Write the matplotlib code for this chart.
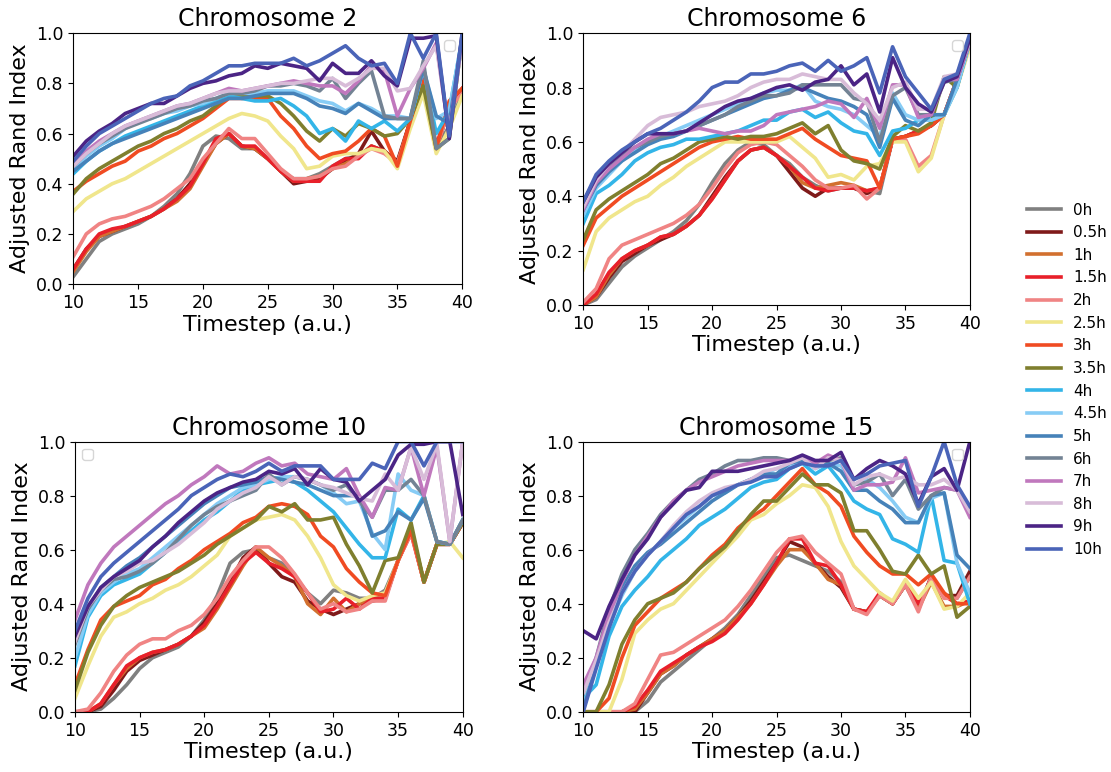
import matplotlib
matplotlib.use("Agg")
import matplotlib.pyplot as plt

# =========================
# Data
# =========================
timesteps = list(range(10, 41))

labels = ["0h", "0.5h", "1h", "1.5h", "2h", "2.5h", "3h", "3.5h",
          "4h", "4.5h", "5h", "6h", "7h", "8h", "9h", "10h"]

colors = ["#808080", "#7f1a1a", "#d2702f", "#e8202a", "#f08484", "#f0e68c",
          "#f04b22", "#7f7f2e", "#33b5e8", "#87ccf5", "#4682b9", "#738394",
          "#c078bd", "#d8bcd8", "#4b2485", "#4a64b8"]

chr2 = [
    [0.03,0.10,0.17,0.20,0.22,0.24,0.27,0.31,0.36,0.44,0.55,0.59,0.58,0.54,0.54,0.50,0.45,0.42,0.42,0.44,0.47,0.50,0.51,0.55,0.53,0.48,0.65,0.82,0.54,0.63,0.76],
    [0.06,0.14,0.19,0.21,0.23,0.25,0.27,0.30,0.34,0.40,0.48,0.56,0.60,0.55,0.54,0.50,0.45,0.40,0.41,0.42,0.46,0.49,0.52,0.61,0.53,0.49,0.65,0.82,0.54,0.70,0.77],
    [0.05,0.13,0.19,0.21,0.23,0.25,0.27,0.30,0.33,0.38,0.47,0.56,0.60,0.55,0.54,0.50,0.45,0.41,0.42,0.43,0.46,0.48,0.51,0.55,0.53,0.48,0.65,0.82,0.54,0.70,0.77],
    [0.06,0.14,0.20,0.22,0.23,0.25,0.27,0.30,0.34,0.39,0.48,0.58,0.60,0.55,0.55,0.50,0.45,0.41,0.41,0.41,0.47,0.50,0.50,0.55,0.53,0.47,0.65,0.82,0.55,0.72,0.78],
    [0.11,0.20,0.24,0.26,0.27,0.29,0.31,0.34,0.38,0.42,0.50,0.56,0.62,0.58,0.58,0.52,0.46,0.42,0.42,0.43,0.46,0.47,0.51,0.54,0.52,0.48,0.64,0.80,0.54,0.70,0.76],
    [0.29,0.34,0.37,0.40,0.42,0.45,0.48,0.51,0.54,0.57,0.60,0.63,0.66,0.68,0.67,0.65,0.59,0.54,0.46,0.47,0.51,0.52,0.52,0.54,0.53,0.46,0.62,0.76,0.52,0.62,0.75],
    [0.37,0.41,0.44,0.47,0.49,0.53,0.55,0.58,0.60,0.63,0.66,0.70,0.74,0.74,0.74,0.74,0.67,0.62,0.55,0.50,0.52,0.53,0.57,0.62,0.59,0.47,0.65,0.81,0.54,0.73,0.78],
    [0.36,0.42,0.46,0.49,0.52,0.55,0.57,0.60,0.62,0.65,0.67,0.71,0.75,0.75,0.75,0.75,0.72,0.67,0.61,0.57,0.62,0.59,0.64,0.62,0.59,0.60,0.66,0.79,0.54,0.58,0.98],
    [0.44,0.49,0.53,0.56,0.59,0.61,0.63,0.65,0.67,0.69,0.71,0.73,0.75,0.74,0.73,0.73,0.74,0.71,0.67,0.60,0.62,0.57,0.65,0.62,0.65,0.61,0.66,0.86,0.60,0.69,0.98],
    [0.46,0.51,0.55,0.58,0.62,0.65,0.66,0.68,0.69,0.71,0.72,0.74,0.76,0.76,0.76,0.77,0.77,0.77,0.75,0.73,0.72,0.69,0.72,0.70,0.67,0.67,0.66,0.86,0.66,0.69,0.98],
    [0.45,0.49,0.53,0.56,0.58,0.60,0.62,0.64,0.66,0.68,0.70,0.72,0.74,0.74,0.75,0.76,0.76,0.76,0.74,0.71,0.70,0.68,0.72,0.69,0.66,0.66,0.66,0.86,0.67,0.64,0.98],
    [0.47,0.52,0.56,0.59,0.62,0.64,0.66,0.68,0.70,0.71,0.73,0.74,0.76,0.76,0.77,0.79,0.79,0.80,0.79,0.77,0.82,0.74,0.80,0.85,0.67,0.66,0.66,0.89,0.54,0.58,0.98],
    [0.48,0.53,0.57,0.60,0.63,0.65,0.67,0.69,0.71,0.72,0.74,0.76,0.78,0.77,0.78,0.79,0.80,0.81,0.80,0.79,0.79,0.76,0.81,0.87,0.85,0.67,0.78,0.86,0.96,0.60,0.98],
    [0.47,0.52,0.56,0.60,0.63,0.65,0.67,0.69,0.71,0.72,0.74,0.76,0.77,0.77,0.78,0.79,0.80,0.80,0.81,0.82,0.82,0.79,0.82,0.86,0.86,0.77,0.78,0.87,0.95,0.60,0.98],
    [0.51,0.57,0.61,0.64,0.68,0.70,0.72,0.72,0.75,0.78,0.80,0.81,0.83,0.84,0.87,0.86,0.88,0.87,0.86,0.81,0.88,0.84,0.84,0.89,0.83,0.79,0.98,0.98,0.99,0.58,1.00],
    [0.49,0.55,0.60,0.63,0.66,0.69,0.72,0.74,0.75,0.79,0.81,0.84,0.87,0.87,0.88,0.88,0.88,0.90,0.87,0.89,0.92,0.95,0.90,0.87,0.88,0.80,1.00,0.90,1.00,0.59,1.00],
]

chr6 = [
    [0.00,0.02,0.08,0.14,0.18,0.21,0.24,0.27,0.31,0.37,0.45,0.52,0.57,0.60,0.59,0.55,0.52,0.47,0.44,0.42,0.43,0.43,0.42,0.41,0.61,0.62,0.64,0.66,0.70,0.82,0.96],
    [0.00,0.03,0.10,0.16,0.19,0.22,0.24,0.26,0.29,0.33,0.40,0.47,0.53,0.57,0.58,0.55,0.49,0.43,0.40,0.43,0.43,0.43,0.41,0.43,0.61,0.62,0.64,0.66,0.70,0.83,0.97],
    [0.00,0.03,0.11,0.17,0.20,0.22,0.25,0.26,0.29,0.33,0.39,0.46,0.53,0.57,0.58,0.55,0.51,0.45,0.43,0.44,0.45,0.44,0.42,0.43,0.61,0.62,0.64,0.66,0.70,0.83,0.97],
    [0.00,0.04,0.12,0.17,0.20,0.22,0.25,0.26,0.29,0.33,0.39,0.46,0.53,0.57,0.58,0.55,0.51,0.47,0.43,0.42,0.43,0.43,0.42,0.43,0.61,0.62,0.64,0.66,0.70,0.83,0.97],
    [0.01,0.06,0.17,0.22,0.24,0.26,0.28,0.30,0.33,0.37,0.43,0.50,0.56,0.59,0.60,0.59,0.55,0.51,0.46,0.43,0.43,0.44,0.39,0.43,0.61,0.61,0.51,0.55,0.70,0.83,0.97],
    [0.13,0.27,0.32,0.35,0.38,0.40,0.44,0.47,0.51,0.54,0.57,0.60,0.60,0.60,0.60,0.60,0.62,0.58,0.54,0.47,0.48,0.46,0.51,0.52,0.60,0.60,0.49,0.54,0.70,0.80,0.95],
    [0.22,0.32,0.36,0.40,0.43,0.46,0.49,0.52,0.55,0.58,0.60,0.61,0.62,0.61,0.61,0.61,0.63,0.65,0.61,0.58,0.55,0.54,0.53,0.43,0.61,0.62,0.63,0.66,0.70,0.82,0.97],
    [0.24,0.35,0.39,0.42,0.45,0.48,0.52,0.54,0.57,0.60,0.61,0.62,0.61,0.62,0.62,0.63,0.65,0.67,0.63,0.66,0.57,0.53,0.52,0.50,0.62,0.66,0.64,0.67,0.84,0.80,0.97],
    [0.30,0.41,0.44,0.48,0.53,0.56,0.58,0.59,0.61,0.61,0.62,0.63,0.64,0.66,0.68,0.68,0.71,0.72,0.69,0.71,0.67,0.64,0.63,0.55,0.64,0.65,0.68,0.68,0.70,0.80,0.97],
    [0.33,0.43,0.48,0.53,0.57,0.60,0.62,0.64,0.66,0.68,0.70,0.72,0.74,0.76,0.78,0.79,0.79,0.81,0.75,0.73,0.72,0.70,0.66,0.62,0.78,0.70,0.68,0.68,0.70,0.80,0.97],
    [0.35,0.44,0.49,0.53,0.56,0.59,0.61,0.62,0.64,0.66,0.68,0.70,0.72,0.74,0.76,0.77,0.79,0.80,0.78,0.76,0.75,0.73,0.70,0.58,0.76,0.68,0.66,0.70,0.70,0.83,0.97],
    [0.36,0.45,0.50,0.55,0.58,0.60,0.62,0.63,0.64,0.66,0.68,0.70,0.73,0.75,0.77,0.77,0.78,0.81,0.81,0.81,0.81,0.76,0.75,0.60,0.77,0.80,0.70,0.70,0.82,0.83,0.97],
    [0.35,0.45,0.50,0.54,0.58,0.61,0.63,0.63,0.64,0.65,0.64,0.63,0.64,0.64,0.66,0.70,0.71,0.72,0.73,0.75,0.74,0.69,0.76,0.65,0.81,0.81,0.69,0.70,0.83,0.83,0.97],
    [0.36,0.46,0.52,0.56,0.61,0.66,0.69,0.70,0.71,0.73,0.74,0.75,0.77,0.80,0.82,0.83,0.83,0.85,0.84,0.83,0.83,0.78,0.74,0.68,0.80,0.82,0.72,0.72,0.84,0.85,0.97],
    [0.38,0.47,0.52,0.56,0.60,0.63,0.63,0.63,0.64,0.67,0.70,0.73,0.75,0.76,0.78,0.80,0.81,0.79,0.82,0.83,0.88,0.81,0.85,0.71,0.91,0.80,0.74,0.71,0.82,0.84,0.98],
    [0.38,0.48,0.53,0.57,0.60,0.63,0.65,0.68,0.71,0.75,0.80,0.82,0.82,0.85,0.85,0.86,0.88,0.89,0.86,0.90,0.86,0.88,0.91,0.78,0.95,0.84,0.78,0.72,0.83,0.85,1.00],
]

chr10 = [
    [0.00,0.00,0.01,0.05,0.10,0.16,0.20,0.22,0.24,0.28,0.34,0.43,0.55,0.59,0.60,0.57,0.55,0.50,0.44,0.40,0.45,0.44,0.42,0.42,0.45,0.56,0.68,0.48,0.62,0.62,0.70],
    [0.00,0.00,0.02,0.08,0.15,0.19,0.21,0.23,0.25,0.28,0.33,0.40,0.48,0.57,0.61,0.55,0.50,0.48,0.41,0.38,0.36,0.38,0.40,0.41,0.42,0.56,0.67,0.48,0.62,0.62,0.70],
    [0.00,0.00,0.03,0.10,0.16,0.20,0.22,0.23,0.25,0.28,0.31,0.38,0.46,0.54,0.61,0.57,0.54,0.50,0.40,0.36,0.42,0.37,0.40,0.42,0.42,0.56,0.67,0.48,0.62,0.62,0.70],
    [0.00,0.00,0.03,0.10,0.17,0.20,0.22,0.23,0.25,0.28,0.32,0.39,0.47,0.55,0.59,0.55,0.53,0.50,0.44,0.37,0.38,0.42,0.38,0.42,0.42,0.56,0.66,0.48,0.62,0.62,0.70],
    [0.00,0.01,0.07,0.15,0.21,0.25,0.27,0.27,0.30,0.32,0.36,0.42,0.50,0.56,0.61,0.61,0.57,0.51,0.44,0.38,0.40,0.37,0.38,0.41,0.41,0.56,0.66,0.48,0.62,0.62,0.70],
    [0.05,0.17,0.28,0.35,0.37,0.40,0.42,0.45,0.47,0.50,0.54,0.58,0.65,0.68,0.71,0.72,0.73,0.71,0.65,0.57,0.47,0.43,0.41,0.43,0.44,0.56,0.68,0.48,0.62,0.63,0.57],
    [0.10,0.23,0.34,0.39,0.41,0.43,0.47,0.49,0.53,0.56,0.60,0.63,0.66,0.70,0.72,0.76,0.77,0.76,0.73,0.65,0.61,0.53,0.48,0.44,0.43,0.56,0.67,0.48,0.62,0.62,0.70],
    [0.08,0.22,0.32,0.39,0.43,0.46,0.48,0.50,0.52,0.55,0.58,0.62,0.65,0.68,0.71,0.76,0.74,0.77,0.71,0.71,0.72,0.62,0.54,0.44,0.56,0.57,0.70,0.48,0.62,0.62,0.70],
    [0.17,0.35,0.43,0.47,0.49,0.51,0.55,0.59,0.63,0.67,0.71,0.74,0.78,0.82,0.84,0.85,0.86,0.85,0.82,0.78,0.74,0.68,0.62,0.57,0.57,0.75,0.71,0.80,0.63,0.62,0.71],
    [0.20,0.36,0.44,0.48,0.51,0.53,0.57,0.61,0.65,0.69,0.73,0.77,0.80,0.83,0.84,0.86,0.87,0.87,0.86,0.84,0.81,0.77,0.78,0.66,0.60,0.88,0.82,0.80,0.63,0.62,0.71],
    [0.27,0.38,0.46,0.50,0.54,0.57,0.61,0.65,0.69,0.73,0.77,0.80,0.83,0.84,0.85,0.87,0.86,0.85,0.84,0.82,0.80,0.80,0.80,0.65,0.67,0.74,0.71,0.79,0.63,0.62,0.71],
    [0.25,0.38,0.45,0.49,0.50,0.52,0.55,0.59,0.64,0.69,0.73,0.76,0.78,0.80,0.82,0.88,0.84,0.87,0.86,0.84,0.82,0.84,0.78,0.72,0.82,0.82,0.86,0.80,0.63,0.62,0.71],
    [0.34,0.47,0.55,0.61,0.65,0.69,0.73,0.77,0.80,0.84,0.87,0.91,0.88,0.89,0.92,0.94,0.91,0.92,0.88,0.87,0.86,0.90,0.80,0.72,0.83,0.82,0.98,0.80,0.98,0.63,1.00],
    [0.26,0.39,0.45,0.50,0.52,0.55,0.56,0.59,0.62,0.66,0.70,0.75,0.78,0.81,0.83,0.87,0.84,0.87,0.86,0.84,0.83,0.81,0.79,0.78,0.88,0.82,0.98,0.86,0.99,0.63,1.00],
    [0.28,0.39,0.46,0.50,0.53,0.56,0.61,0.65,0.70,0.74,0.78,0.81,0.83,0.85,0.86,0.89,0.88,0.90,0.84,0.90,0.86,0.85,0.78,0.82,0.86,0.95,0.99,0.99,1.00,1.00,0.73],
    [0.30,0.42,0.50,0.55,0.59,0.63,0.67,0.71,0.75,0.80,0.83,0.86,0.88,0.87,0.89,0.92,0.89,0.91,0.91,0.91,0.86,0.86,0.86,0.92,0.90,1.00,1.00,0.91,1.00,1.00,1.00],
]

chr15 = [
    [0.00,0.00,0.00,0.00,0.00,0.04,0.11,0.15,0.19,0.23,0.27,0.31,0.36,0.43,0.50,0.57,0.58,0.56,0.54,0.52,0.48,0.38,0.37,0.43,0.40,0.47,0.38,0.50,0.43,0.42,0.50],
    [0.00,0.00,0.00,0.00,0.00,0.07,0.14,0.17,0.21,0.24,0.27,0.30,0.35,0.41,0.48,0.55,0.63,0.61,0.55,0.50,0.46,0.38,0.37,0.43,0.40,0.47,0.38,0.50,0.43,0.43,0.52],
    [0.00,0.00,0.00,0.00,0.01,0.07,0.14,0.17,0.21,0.24,0.27,0.30,0.35,0.40,0.47,0.54,0.60,0.60,0.55,0.49,0.47,0.38,0.37,0.43,0.40,0.47,0.38,0.48,0.39,0.39,0.41],
    [0.00,0.00,0.00,0.00,0.02,0.08,0.15,0.18,0.21,0.24,0.26,0.29,0.34,0.40,0.47,0.55,0.64,0.64,0.55,0.54,0.47,0.38,0.37,0.44,0.40,0.48,0.40,0.49,0.43,0.40,0.41],
    [0.00,0.00,0.00,0.00,0.03,0.12,0.21,0.22,0.25,0.28,0.31,0.34,0.39,0.45,0.52,0.59,0.64,0.65,0.59,0.55,0.51,0.38,0.36,0.43,0.40,0.47,0.37,0.50,0.42,0.42,0.50],
    [0.00,0.00,0.00,0.12,0.29,0.34,0.38,0.40,0.45,0.50,0.55,0.60,0.65,0.71,0.73,0.77,0.80,0.84,0.83,0.76,0.63,0.54,0.49,0.44,0.41,0.49,0.42,0.48,0.38,0.39,0.44],
    [0.00,0.00,0.05,0.20,0.32,0.37,0.42,0.45,0.48,0.53,0.58,0.62,0.68,0.72,0.75,0.80,0.85,0.90,0.84,0.81,0.76,0.65,0.59,0.54,0.51,0.51,0.47,0.51,0.44,0.40,0.40],
    [0.00,0.00,0.10,0.25,0.34,0.40,0.42,0.44,0.48,0.53,0.57,0.61,0.67,0.73,0.78,0.78,0.83,0.88,0.84,0.84,0.81,0.67,0.67,0.60,0.52,0.51,0.58,0.51,0.54,0.35,0.39],
    [0.05,0.10,0.28,0.39,0.45,0.50,0.56,0.60,0.64,0.69,0.72,0.75,0.79,0.83,0.85,0.86,0.90,0.92,0.88,0.91,0.85,0.78,0.75,0.73,0.64,0.62,0.59,0.80,0.56,0.55,0.40],
    [0.02,0.18,0.32,0.43,0.52,0.58,0.63,0.68,0.72,0.76,0.80,0.81,0.84,0.86,0.88,0.90,0.91,0.93,0.90,0.92,0.91,0.84,0.86,0.83,0.78,0.72,0.70,0.79,0.81,0.55,0.44],
    [0.01,0.17,0.33,0.46,0.54,0.59,0.62,0.66,0.70,0.74,0.78,0.81,0.84,0.86,0.88,0.88,0.92,0.93,0.91,0.92,0.89,0.82,0.82,0.78,0.75,0.70,0.70,0.80,0.81,0.58,0.53],
    [0.07,0.20,0.38,0.51,0.60,0.66,0.73,0.78,0.82,0.86,0.88,0.91,0.93,0.93,0.94,0.94,0.93,0.94,0.92,0.93,0.94,0.84,0.85,0.88,0.80,0.86,0.75,0.80,0.83,0.82,0.76],
    [0.10,0.20,0.36,0.48,0.58,0.65,0.72,0.78,0.82,0.85,0.87,0.89,0.91,0.92,0.93,0.93,0.93,0.94,0.92,0.95,0.93,0.82,0.84,0.84,0.85,0.94,0.81,0.82,0.83,0.82,0.72],
    [0.07,0.19,0.33,0.44,0.52,0.58,0.63,0.69,0.74,0.78,0.81,0.83,0.84,0.86,0.89,0.90,0.92,0.94,0.90,0.94,0.93,0.84,0.87,0.88,0.86,0.87,0.84,0.84,0.86,0.82,0.74],
    [0.30,0.27,0.39,0.49,0.58,0.64,0.72,0.77,0.82,0.83,0.89,0.89,0.89,0.90,0.91,0.92,0.93,0.95,0.93,0.93,0.96,0.86,0.90,0.93,0.91,0.88,0.77,0.87,0.90,0.82,1.00],
    [0.00,0.16,0.31,0.44,0.52,0.58,0.63,0.68,0.73,0.76,0.80,0.82,0.84,0.85,0.87,0.87,0.90,0.92,0.91,0.91,0.93,0.86,0.88,0.91,0.92,0.93,0.76,0.87,1.00,0.84,0.76],
]

panels = [
    ("Chromosome 2", chr2, [0.066, 0.632, 0.350, 0.325], "upper right"),
    ("Chromosome 6", chr6, [0.525, 0.605, 0.348, 0.352], "upper right"),
    ("Chromosome 10", chr10, [0.0675, 0.078, 0.349, 0.350], "upper left"),
    ("Chromosome 15", chr15, [0.525, 0.078, 0.348, 0.350], "upper right"),
]

# =========================
# Plot
# =========================
fig = plt.figure(figsize=(11.11, 7.72), dpi=100)

handles = []
for title, series, pos, empty_loc in panels:
    ax = fig.add_axes(pos)
    lines = []
    for vals, col, lab in zip(series, colors, labels):
        ln, = ax.plot(timesteps, vals, color=col, lw=2.6, label=lab)
        lines.append(ln)
    handles = lines
    ax.set_xlim(10, 40)
    ax.set_ylim(0, 1)
    ax.set_xticks([10, 15, 20, 25, 30, 35, 40])
    ax.set_yticks([0.0, 0.2, 0.4, 0.6, 0.8, 1.0])
    ax.tick_params(labelsize=12.5)
    ax.set_title(title, fontsize=17, pad=5)
    ax.set_xlabel("Timestep (a.u.)", fontsize=16, labelpad=2)
    ax.set_ylabel("Adjusted Rand Index", fontsize=16, labelpad=4)
    # the original has an empty legend box in each panel
    ax.legend(handles=[], loc=empty_loc)

fig.legend(handles, labels, loc="center left", bbox_to_anchor=(0.912, 0.508),
           frameon=False, fontsize=11, handlelength=2.2)

fig.savefig("out.png", dpi=100)
